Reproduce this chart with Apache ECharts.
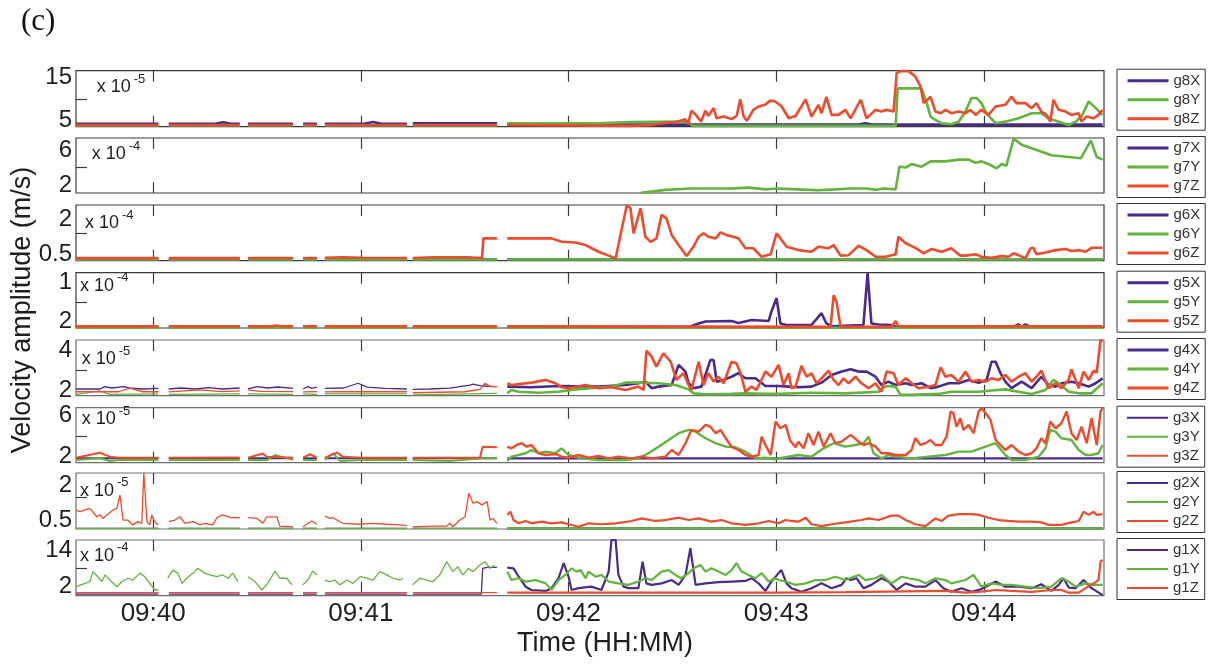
<!DOCTYPE html>
<html>
<head>
<meta charset="utf-8">
<script src="https://cdn.jsdelivr.net/npm/echarts@6/dist/echarts.min.js"></script>
<style>
  html, body { margin: 0; padding: 0; background: #fff; }
  #chart { width: 1208px; height: 664px; }
</style>
</head>
<body>
<div id="chart"></div>
<script>
// Time is counted in seconds after 09:39:00.
const timeRange = [37.7, 334.7];
const minuteTicks = [60, 120, 180, 240, 300];
const minuteLabels = ['09:40', '09:41', '09:42', '09:43', '09:44'];
// Recording gaps (no samples around these instants)
const gapTimes = [63, 86.2, 101.9, 108.5, 134.2, 160.8];
const secondFileStart = 160.8;

const stations = ['g8', 'g7', 'g6', 'g5', 'g4', 'g3', 'g2', 'g1'];
const exponents = ['-5', '-4', '-4', '-4', '-5', '-5', '-5', '-4'];
const yMin = [3.4, 1.09, 0.21, 0.067, 1.71, 1.42, 0.135, -1];
const yMax = [16.7, 7.37, 2.63, 1.2, 4.53, 6.7, 2.54, 17.5];
const yLabelValues = [[5, 15], [2, 6], [0.5, 2], [0.2, 1], [2, 4], [2, 6], [0.5, 2], [2, 14]];
const yLabelText = [['5', '15'], ['2', '6'], ['0.5', '2'], ['2', '1'], ['2', '4'], ['2', '6'], ['0.5', '2'], ['2', '14']];
const yMidTick = [10, 4, 1.4, 0.6, 3, 4, 1.5, 8];

// ---- velocity amplitudes, [time s, amplitude in units of the panel exponent] ----
const g8X = [[37.7,4.1],[61.5,4.1],[64.5,4.1],[78,4.1],[80.2,4.45],[82.5,4.1],[85,4.1],[87.4,4.1],[100.4,4.1],[103.3,4.1],[107.3,4.1],[109.6,4.1],[121,4.1],[123.5,4.5],[126,4.1],[133.3,4.1],[135,4.2],[159.3,4.2],
  [162.3,3.9],[264,3.9],[265.8,4.2],[267.5,3.9],[334.3,3.9]];
const g8Y = [[37.7,3.7],[61.5,3.7],[64.5,3.7],[85,3.7],[87.4,3.7],[100.4,3.7],[103.3,3.7],[107.3,3.7],[109.6,3.7],[133.3,3.7],[135,3.7],[159.3,3.7],
  [162.3,4.2],[188.7,4.2],[197.3,4.5],[214.7,4.6],[215.8,3.6],[274.5,3.6],[275.1,12.5],[282,12.5],[283.5,9.0],[284.6,5.8],[286,5.0],[287.8,4.2],[290.6,4.0],[292.7,4.6],[294.7,7.0],[296.4,10.2],[297.9,10.2],[299.3,9.0],[300.7,6.6],[303.4,4.2],[306.2,4.6],[310,5.4],[313.8,6.6],[316.6,6.6],[318.6,5.4],[321.6,4.6],[324.5,3.8],[326.5,4.6],[328.2,5.8],[330.3,9.4],[332.3,7.8],[334.3,6.2]];
const g8Z = [[37.7,3.8],[61.5,3.8],[64.5,3.8],[85,3.8],[87.4,3.8],[100.4,3.8],[103.3,3.8],[107.3,3.8],[109.6,3.8],[133.3,3.8],[135,3.8],[159.3,3.8],
  [162.3,3.8],[198,3.6],[204,3.8],[207,4.2],[211,4.5],[212.3,4.8],[213.7,5.2],[214.5,4.0],[215.5,7.2],[216.8,6.2],[218.3,4.6],[219.5,7.2],[220.4,6.0],[221.9,7.8],[222.8,5.4],[224.8,5.8],[227.2,5.2],[228.6,6.0],[229.6,9.9],[230.6,5.8],[231.5,4.8],[233.4,7.4],[234.9,8.2],[236.8,8.6],[238.3,9.6],[239.7,9.4],[241.6,8.2],[243.6,5.4],[245.6,6.0],[248.5,9.9],[250.2,5.8],[252.2,8.6],[253.1,6.6],[254.5,10.5],[256,6.2],[258,6.2],[260,7.4],[261.5,5.4],[264.4,9.8],[266.1,5.4],[268.7,7.4],[270.4,7.0],[271.9,7.4],[273.9,7.0],[274.8,16.1],[275.9,16.6],[278.2,16.6],[280.2,15.3],[281.7,12.9],[282.6,9.0],[284.6,10.5],[286,7.0],[287.5,6.6],[288.9,7.4],[290.6,6.6],[292.7,7.0],[294.7,6.6],[296.1,7.4],[297.6,6.2],[299.3,7.4],[301.3,6.2],[303.4,8.2],[306.2,8.6],[308,10.5],[309.4,9.0],[312,9.0],[313.8,7.8],[315.2,9.0],[316.6,7.0],[318.1,6.2],[319.2,4.6],[320.1,9.8],[321.6,7.4],[323.6,7.0],[325.3,6.2],[327.4,6.6],[328.2,4.6],[329.6,5.8],[331.7,5.4],[333.1,6.2],[334.3,7.4]];

const g7X = [];
const g7Y = [[201,1.1],[204,1.25],[208,1.45],[215.5,1.6],[227,1.6],[232,1.7],[237,1.5],[240,1.6],[246,1.5],[252,1.4],[257,1.5],[261.5,1.6],[266,1.6],[269,1.45],[271,1.6],[274.5,1.5],[275.6,4.1],[277.4,4.0],[279.1,4.4],[282,4.1],[284.6,4.7],[289,4.7],[292.7,4.9],[295.6,4.9],[297.6,4.55],[299.3,4.7],[301.3,4.4],[303.7,3.9],[305.1,4.4],[306.5,4.2],[308.6,7.3],[310.9,6.6],[313.8,6.2],[319.5,5.4],[324.5,5.2],[328,5.05],[330.9,7.1],[332.6,5.2],[334.3,4.9]];
const g7Z = [];

const g6X = [[37.7,0.26],[61.5,0.26],[64.5,0.26],[85,0.26],[87.4,0.26],[100.4,0.26],[103.3,0.26],[107.3,0.26],[109.6,0.26],[133.3,0.26],[135,0.26],[159.3,0.26],[162.3,0.26],[334.3,0.26]];
const g6Y = [[37.7,0.26],[61.5,0.26],[64.5,0.26],[85,0.26],[87.4,0.26],[100.4,0.26],[103.3,0.26],[107.3,0.26],[109.6,0.26],[133.3,0.26],[135,0.26],[159.3,0.26],[162.3,0.26],[334.3,0.26]];
const g6Z = [[37.7,0.32],[61.5,0.32],[64.5,0.32],[85,0.32],[87.4,0.33],[100.4,0.33],[103.3,0.33],[107.3,0.33],[109.6,0.34],[115,0.36],[120,0.34],[133.3,0.33],[135,0.33],[140.8,0.36],[150.6,0.36],[155,0.33],[155.4,1.18],[159.3,1.18],
  [162.3,1.18],[175.1,1.18],[178,1.03],[182,1.0],[184.9,0.89],[188.7,0.6],[193.6,0.31],[195,1.33],[196.8,2.6],[197.9,2.49],[198.8,1.4],[200.8,2.49],[202.2,1.25],[203.7,1.03],[205.4,1.18],[206.9,2.2],[208.3,2.05],[209.8,1.33],[211.8,0.89],[214.1,0.41],[216.1,0.82],[217.6,1.25],[219,1.4],[220.4,1.25],[222.5,1.18],[223.9,1.44],[225.6,1.33],[229.1,1.18],[231.1,0.75],[233.4,0.75],[235.8,0.38],[238.4,0.49],[240.1,1.4],[243,0.82],[246.4,0.67],[250.2,0.6],[252.2,0.82],[255.1,0.75],[256.6,0.89],[258.6,0.43],[260.9,0.45],[263.8,0.86],[266.1,0.67],[268.7,0.38],[271.6,0.38],[274.5,0.49],[275.3,1.25],[277.4,0.97],[280.2,0.77],[282.6,0.53],[284.9,0.72],[287.8,0.6],[290.6,0.75],[293.2,0.43],[294.7,0.43],[297.6,0.49],[299.3,0.38],[302.2,0.34],[305.1,0.41],[307.1,0.38],[308.6,0.53],[310,0.45],[312,0.31],[313.5,0.75],[314.3,0.77],[315.2,0.49],[317.8,0.57],[320.7,0.67],[323.6,0.72],[325.3,0.63],[327.4,0.67],[329.4,0.6],[331.1,0.77],[334.3,0.77]];

const g5X = [[37.7,0.09],[61.5,0.09],[64.5,0.09],[85,0.09],[87.4,0.09],[100.4,0.09],[103.3,0.09],[107.3,0.09],[109.6,0.09],[133.3,0.09],[135,0.09],[159.3,0.09],
  [162.3,0.09],[214.7,0.09],[217.6,0.16],[219.6,0.2],[227.1,0.21],[229.1,0.17],[232.9,0.23],[237.8,0.21],[238.6,0.4],[240.1,0.68],[241.2,0.16],[243,0.13],[250.2,0.13],[253.1,0.37],[254.5,0.16],[256,0.1],[265.2,0.13],[266.4,1.19],[267.5,0.16],[269.6,0.14],[273.3,0.13],[275.3,0.08],[308,0.08],[310,0.14],[310.9,0.09],[312,0.14],[313.8,0.08],[329.4,0.1],[334.3,0.08]];
const g5Y = [[37.7,0.07],[61.5,0.07],[64.5,0.07],[85,0.07],[87.4,0.07],[100.4,0.07],[103.3,0.07],[107.3,0.07],[109.6,0.07],[133.3,0.07],[135,0.07],[159.3,0.07],[162.3,0.07],[334.3,0.07]];
const g5Z = [[37.7,0.1],[61.5,0.1],[64.5,0.1],[85,0.1],[87.4,0.1],[94,0.1],[95.7,0.12],[97,0.1],[100.4,0.1],[103.3,0.1],[107.3,0.1],[109.6,0.1],[133.3,0.1],[135,0.1],[159.3,0.1],
  [162.3,0.1],[255.7,0.09],[256.6,0.74],[257.4,0.61],[258.6,0.09],[273.3,0.09],[274.5,0.21],[275.3,0.1],[334.3,0.1]];

const g4X = [[37.7,2.05],[44.6,2.05],[46,2.17],[48,2.1],[51.5,2.17],[53,2.1],[57,2.05],[61.5,2.08],[64.5,2.05],[68,2.1],[72,2.05],[76,2.12],[80,2.05],[85,2.1],[87.4,2.05],[90,2.17],[93,2.1],[96,2.15],[100.4,2.08],[103.3,2.05],[104.7,2.17],[105.8,2.08],[107.3,2.15],[109.6,2.08],[115,2.1],[119.2,2.34],[121.8,2.14],[127,2.08],[133.3,2.05],[135,2.03],[140,2.05],[145.7,2.09],[151.5,2.25],[152.4,2.3],[155,2.2],[159.3,2.17],
  [162.3,2.17],[169.3,2.14],[177.1,2.2],[188.7,2.17],[196.5,2.25],[200.2,2.34],[202.2,2.42],[204,2.09],[206,2.17],[209.8,2.25],[211.8,3.27],[213.8,2.93],[214.7,2.34],[216.1,2.09],[218.4,2.17],[221,3.52],[221.9,3.52],[222.8,2.42],[224.8,2.51],[227.1,2.67],[229.1,2.85],[231.1,2.59],[234,2.59],[236.9,2.2],[240.7,2.2],[243.6,2.17],[246.4,2.14],[250.2,2.17],[253.1,2.37],[256,2.76],[258.9,2.93],[261.5,3.05],[263.8,2.93],[266.1,2.93],[268.7,2.67],[270.4,2.25],[272.4,2.42],[274.5,2.25],[277.4,2.34],[279.1,2.25],[282,2.34],[284.6,2.09],[286.9,2.17],[289.8,2.34],[292.7,2.34],[295.6,2.51],[298.5,2.37],[300.8,2.51],[302.2,3.43],[303.4,3.43],[304.8,2.85],[306.2,2.42],[308,2.09],[310.9,2.42],[313.8,2.09],[316.6,2.67],[318.7,2.25],[320.7,2.17],[322.4,2.34],[325.3,2.42],[327.4,2.34],[330.3,2.17],[332.3,2.34],[334.3,2.59]];
const g4Y = [[37.7,1.78],[44.6,1.95],[47.5,1.78],[61.5,1.8],[64.5,1.78],[85,1.8],[87.4,1.8],[100.4,1.78],[103.3,1.8],[107.3,1.78],[109.6,1.8],[133.3,1.8],[135,1.75],[159.3,1.83],
  [162.3,1.83],[163.5,2.0],[165.6,1.91],[171.3,1.86],[177.1,1.91],[182,2.03],[186.6,2.09],[192.4,2.17],[196.5,2.37],[200.2,2.37],[206,2.34],[210.9,2.25],[214.7,2.03],[216.1,1.83],[219.6,1.78],[227.1,1.8],[231.1,1.83],[236.9,1.8],[240.7,1.8],[250.2,1.86],[260,1.83],[269.6,1.91],[271,2.14],[272.4,2.2],[274.5,2.17],[275.9,1.75],[279.1,1.75],[286.9,1.8],[290.6,1.91],[298.5,1.91],[302.2,1.97],[306.2,2.03],[310,1.91],[313.8,1.8],[317.8,2.0],[320.1,2.51],[321.6,2.34],[324.5,1.91],[327.4,1.83],[331.1,1.83],[334.3,2.34]];
const g4Z = [[37.7,1.91],[50,1.91],[53.3,2.09],[57,1.91],[61.5,1.91],[64.5,1.9],[73.5,2.0],[80,1.92],[85,1.95],[87.4,2.0],[91,1.93],[100.4,1.92],[103.3,1.9],[107.3,1.92],[109.6,1.9],[115,1.91],[133.3,1.91],[135,1.86],[150,1.91],[154.4,2.03],[155.9,2.34],[157.3,2.17],[159.3,2.17],
  [162.3,2.34],[163.5,2.25],[169.3,2.37],[173.4,2.51],[176.2,2.34],[178,2.14],[180,2.09],[184.9,2.25],[188.7,2.09],[192.4,2.14],[196.5,2.0],[200.2,2.17],[201.7,2.0],[202.5,3.99],[204,3.69],[205.4,3.18],[207.4,3.86],[209.5,3.43],[211.2,2.51],[213.2,2.85],[214.7,2.25],[215.5,2.0],[217.6,3.43],[219,2.25],[220.4,2.85],[221.9,2.42],[223.3,2.67],[224.8,2.34],[227.1,3.43],[228.5,3.35],[229.7,2.85],[231.1,1.91],[232.9,2.17],[234.3,2.0],[236.9,2.93],[238.6,2.67],[240.7,3.27],[242.1,2.25],[243.6,2.85],[244.4,2.09],[245.6,2.17],[247.3,3.22],[248.8,2.67],[250.2,2.85],[251.6,2.34],[253.1,2.59],[255.1,2.98],[256.6,2.51],[258,2.25],[259.4,2.59],[260.9,2.34],[262.9,2.67],[264.6,2.34],[266.7,2.09],[268.7,2.34],[270.4,1.91],[271.9,2.93],[273.9,2.85],[275.3,2.25],[277.4,2.59],[279.1,2.34],[281.1,2.09],[283.4,2.14],[286,2.25],[287.5,3.15],[288.9,2.67],[290.6,2.76],[292.7,2.42],[294.7,2.93],[296.4,2.42],[298.5,2.51],[300.5,2.42],[302.2,2.59],[304.2,2.51],[306.2,2.76],[308,2.42],[310,2.67],[312,2.85],[313.8,2.42],[315.2,2.67],[316.6,2.98],[318.7,2.09],[320.7,2.34],[322.4,2.09],[324.5,2.51],[325.3,3.05],[327.4,2.09],[328.8,2.93],[330.3,2.51],[331.7,2.98],[332.6,2.88],[333.7,4.53],[334.3,4.45]];

const g3X = [[37.7,1.84],[61.5,1.84],[64.5,1.84],[85,1.84],[87.4,1.84],[100.4,1.84],[103.3,1.84],[107.3,1.84],[109.6,1.84],[133.3,1.84],[135,1.84],[159.3,1.84],[162.3,1.84],[334.3,1.84]];
const g3Y = [[37.7,1.68],[44.6,1.84],[47.5,1.59],[50,1.68],[61.5,1.68],[64.5,1.68],[85,1.68],[87.4,1.68],[93,1.68],[95.2,2.16],[97,2.0],[100.4,1.7],[103.3,1.68],[107.3,1.68],[109.6,1.7],[112,2.33],[114,1.59],[120,1.68],[133.3,1.68],[135,1.68],[145.7,1.59],[155,1.84],[159.3,1.84],
  [162.3,1.59],[163.5,2.0],[165.6,2.16],[167.6,2.33],[169.3,2.64],[171.3,2.33],[173.4,2.48],[176.2,2.33],[178,2.8],[180,2.16],[182.9,1.9],[188.7,1.68],[196.5,1.68],[200.2,1.84],[203.1,2.33],[206,2.96],[208.9,3.6],[211.8,4.25],[214.7,4.57],[216.7,4.4],[219.6,3.77],[222.5,3.29],[225.4,2.96],[228.2,2.9],[231.1,2.48],[234,1.84],[236.9,1.9],[239.8,1.75],[240.7,1.84],[246.4,2.16],[250.2,2.0],[252.2,2.48],[253.7,2.8],[256.6,3.29],[260,2.96],[262.9,3.12],[265.2,3.29],[266.7,3.92],[268.1,2.33],[270.4,1.84],[272.4,2.16],[274.5,2.0],[279.1,1.84],[284,2.0],[288.9,2.16],[292.7,2.48],[296.4,2.48],[300.5,2.96],[303.4,3.29],[306.2,2.16],[308,1.68],[312,1.68],[315.8,2.0],[317.8,2.8],[319.2,4.57],[320.7,4.4],[322.4,3.77],[325.3,3.6],[327.4,2.64],[329.4,2.16],[331.1,2.16],[333.1,2.33],[334.3,3.12]];
const g3Z = [[37.7,1.9],[44.6,2.38],[47.5,2.0],[50,1.9],[61.5,1.9],[64.5,1.9],[85,1.92],[87.4,1.9],[91.7,2.3],[92.8,2.0],[100.4,1.9],[103.3,1.9],[105.3,2.23],[107.3,1.9],[109.6,1.9],[113.1,2.38],[114.8,2.0],[120,1.9],[133.3,1.9],[135,1.9],[154.4,1.9],[155.2,2.96],[159.3,2.9],
  [162.3,2.96],[163.5,2.8],[165,3.12],[166.4,3.29],[167.9,2.96],[169.3,3.12],[171.3,2.33],[173.4,2.16],[176.2,2.26],[178,2.0],[180,1.9],[182.9,2.16],[185.8,1.9],[188.7,2.07],[191.6,1.84],[194.4,2.0],[198.2,1.84],[201.1,2.0],[204,1.84],[208,2.0],[209.8,2.64],[211.8,2.16],[213.8,3.29],[215.5,4.57],[217.6,4.4],[219.6,5.05],[221,4.88],[222.5,4.25],[223.9,4.57],[225.4,3.77],[227.1,2.96],[229.1,2.64],[231.1,2.16],[232.9,2.0],[234.9,2.16],[235.8,3.92],[236.9,3.12],[238.4,2.16],[239.8,5.37],[241.2,4.73],[242.7,5.05],[244.1,3.5],[245.6,2.9],[246.4,3.44],[247.9,2.8],[249.3,4.25],[250.8,3.12],[252.2,4.4],[253.7,2.96],[255.7,4.25],[257.1,3.29],[258.9,3.44],[261.5,4.09],[263.8,3.44],[265.2,3.12],[266.7,3.29],[268.7,2.96],[270.4,2.33],[272.4,2.33],[274.5,2.16],[277.4,2.16],[279.1,2.64],[280.2,3.77],[281.7,3.12],[283.1,3.29],[284.6,3.6],[286,3.12],[287.8,3.12],[289.2,3.92],[290.4,6.33],[291.2,6.17],[292.1,4.88],[293.2,5.69],[294.1,4.57],[295.6,5.05],[297,4.25],[298.5,6.33],[299.3,6.65],[300.5,6.17],[301.9,5.53],[303.4,3.6],[304.8,3.12],[306.2,2.64],[308,3.12],[310,2.48],[312,2.16],[313.8,2.33],[315.2,2.8],[316.6,3.77],[317.8,3.29],[319.2,5.37],[320.7,4.73],[322.4,5.21],[323.9,6.33],[325.3,4.25],[326.8,3.6],[328.2,4.88],[329.7,3.29],[331.1,5.69],[332.6,3.12],[333.7,6.33],[334.3,6.65]];

const g2X = [[37.7,0.16],[61.5,0.16],[64.5,0.16],[85,0.16],[87.4,0.16],[100.4,0.16],[103.3,0.16],[107.3,0.16],[109.6,0.16],[133.3,0.16],[135,0.16],[159.3,0.16],[162.3,0.16],[334.3,0.16]];
const g2Y = [[37.7,0.16],[61.5,0.16],[64.5,0.16],[85,0.16],[87.4,0.16],[100.4,0.16],[103.3,0.16],[107.3,0.16],[109.6,0.16],[133.3,0.16],[135,0.16],[159.3,0.16],[162.3,0.16],[334.3,0.16]];
const g2Z = [[37.7,0.95],[38.8,0.88],[41.7,1.02],[43.7,0.66],[44.6,0.74],[45.5,0.59],[46.6,0.74],[48.4,0.95],[49.5,1.02],[50.4,1.59],[51.3,0.52],[52.7,0.52],[54.1,0.31],[55.6,0.45],[56.7,0.38],[57.3,2.53],[58.2,0.45],[59,0.31],[59.6,0.74],[60.2,0.52],[61.1,0.34],[61.5,0.34],
  [64.5,0.45],[66.3,0.52],[67.7,0.66],[69.2,0.38],[71.5,0.45],[73.5,0.31],[74.9,0.38],[77.2,0.31],[78.4,0.62],[80.1,0.74],[82.2,0.62],[85,0.62],
  [87.4,0.62],[90,0.59],[91.7,0.38],[92.8,0.66],[95.7,0.66],[96.6,0.26],[100.4,0.23],
  [103.3,0.23],[105.8,0.48],[107.3,0.34],
  [109.6,0.69],[111.1,0.59],[111.9,0.62],[114.8,0.38],[119.8,0.34],[123.5,0.38],[127.5,0.34],[131.3,0.31],[133.3,0.28],
  [135,0.23],[140.8,0.26],[144.8,0.26],[145.7,0.38],[146.6,0.23],[148.6,0.52],[150.1,0.66],[151.2,1.67],[152.4,1.24],[153.5,1.31],[155,1.17],[156.5,1.31],[157.3,0.52],[158.2,0.59],[159.3,0.38],
  [162.3,0.74],[163.2,0.88],[164.1,0.52],[165.6,0.38],[167.6,0.48],[169.3,0.38],[172.2,0.45],[175.1,0.38],[178,0.42],[180,0.34],[182.9,0.23],[185.8,0.38],[189.5,0.34],[193.6,0.38],[198.2,0.48],[201.1,0.59],[205.1,0.48],[208,0.52],[211.8,0.62],[214.7,0.52],[217.6,0.59],[221.3,0.45],[224.2,0.52],[227.1,0.38],[231.1,0.31],[234.9,0.38],[237.8,0.48],[240.7,0.38],[242.7,0.52],[244.4,0.48],[246.4,0.45],[248.5,0.62],[250.2,0.34],[253.1,0.26],[256,0.34],[260,0.42],[264.6,0.52],[266.7,0.59],[269.6,0.52],[273.3,0.71],[275.3,0.71],[277.4,0.52],[280.2,0.34],[283.1,0.26],[286,0.59],[287.8,0.48],[289.8,0.71],[292.7,0.77],[296.4,0.77],[298.5,0.74],[301.3,0.62],[304.2,0.52],[307.1,0.48],[310,0.45],[313.8,0.45],[316.6,0.42],[318.7,0.31],[322.4,0.31],[325.3,0.42],[327.4,0.48],[328.8,0.88],[330.3,0.74],[331.7,0.88],[332.6,0.74],[334.3,0.77]];

const g1X = [[37.7,-0.5],[61.5,-0.5],[64.5,-0.5],[85,-0.5],[87.4,-0.5],[100.4,-0.5],[103.3,-0.5],[107.3,-0.5],[109.6,-0.5],[133.3,-0.5],[135,-0.5],[154.8,-0.5],[155.2,8.1],[156.5,8.4],[159.3,8.4],
  [162.3,8.3],[164.1,8.1],[165.6,5.3],[167.6,2.0],[169.3,0.9],[173.4,0.6],[175.1,1.5],[177.1,4.8],[178.6,9.8],[180,5.3],[180.9,0.9],[182.9,1.5],[186.6,2.0],[189.5,0.9],[191.6,7.0],[192.4,17.5],[193.6,17.5],[194.4,5.9],[195.9,2.0],[197.3,1.5],[200.2,1.5],[201.4,10.3],[202.5,3.1],[204,2.6],[206.9,3.1],[209.8,4.2],[211.8,2.6],[213.8,5.9],[215.2,14.8],[216.7,2.6],[219.6,3.1],[223.3,3.5],[227.1,3.7],[231.1,3.9],[232.9,4.8],[234.9,3.1],[236.9,0.6],[238.6,3.7],[240.7,6.5],[241.5,7.5],[243,3.0],[244.4,1.5],[247.3,0.3],[250.2,1.5],[253.1,3.1],[256,1.5],[258.9,2.6],[260.3,4.8],[261.5,4.2],[263.2,4.8],[265.2,1.5],[267.5,2.6],[270.4,4.8],[272.4,3.7],[274.8,0.9],[277.4,3.1],[280.2,2.0],[283.1,2.0],[286,4.2],[288.3,1.5],[290.6,0.3],[293.5,1.5],[296.4,0.3],[299.3,1.2],[303.4,3.7],[306.2,2.0],[310,2.0],[313.8,1.5],[316.6,2.8],[319.5,0.6],[321.6,2.6],[323,4.8],[324.5,1.7],[326.5,1.5],[328.8,4.2],[331.1,1.5],[334.3,-0.8]];
const g1Y = [[37.7,2.0],[41.7,3.7],[42.6,7.0],[44,5.3],[45.2,3.7],[46.1,5.9],[47.5,4.2],[49.5,2.0],[51,3.7],[52.7,4.8],[54.1,4.2],[56.2,6.5],[57.6,5.3],[59,3.1],[60.5,0.9],[61.5,0.9],
  [64.2,4.8],[65.7,7.5],[67.1,6.5],[68.3,3.1],[69.7,4.8],[71.5,6.5],[72.9,8.1],[74.9,6.5],[76.4,5.9],[78.4,5.3],[80.1,5.9],[81.6,4.8],[83,6.5],[84.5,3.7],
  [87.4,5.3],[89.4,3.7],[91.4,0.9],[93.1,3.1],[95.2,7.2],[96.6,4.8],[98.6,4.8],[100.1,2.6],
  [103.2,2.6],[104.7,4.2],[106.1,7.2],[107.3,5.9],
  [109.6,4.2],[111.1,3.7],[112.5,4.2],[113.9,2.6],[116,4.2],[117.7,3.1],[119.8,5.3],[121.8,4.8],[123.5,4.2],[125.5,7.0],[127.5,5.9],[129.3,4.8],[131.3,4.2],[132.1,4.8],
  [135,2.6],[137,4.8],[139,4.2],[140.8,3.7],[142.8,5.9],[144.8,10.3],[146.6,7.0],[148,8.6],[149.5,5.9],[151,8.1],[152.4,7.0],[154.4,9.2],[155.9,10.3],[157.3,8.1],[158.7,9.2],
  [162.3,7.0],[163.5,4.2],[165.6,4.8],[167.6,3.7],[170.5,4.2],[173.4,3.1],[175.1,0.9],[177.1,4.2],[179.1,5.9],[180.9,8.1],[182.3,7.0],[183.5,7.5],[184.9,4.8],[185.8,7.0],[187.8,5.3],[189.5,5.9],[191.6,3.7],[194.4,3.1],[197.3,2.6],[200.2,3.7],[202.2,4.8],[204,4.2],[206.9,7.0],[208.9,7.5],[210.9,5.9],[212.6,4.8],[214.7,6.5],[216.1,8.1],[218.1,9.2],[219.6,7.0],[221.3,8.1],[223.3,7.0],[225.4,5.9],[227.1,7.5],[228.5,9.8],[230,7.0],[232,5.9],[234,4.8],[235.8,6.5],[237.8,3.7],[239.8,4.8],[240.7,4.2],[242.7,3.7],[245.6,2.6],[248.5,3.1],[251.4,4.2],[254.2,4.2],[257.1,5.3],[260,4.2],[263.8,5.9],[265.8,4.2],[268.7,4.8],[270.4,5.9],[273.3,3.1],[276.2,5.3],[278.2,4.8],[281.1,4.2],[283.1,3.1],[286,4.8],[288.9,4.2],[290.6,3.1],[294.7,4.2],[297,5.9],[299.3,2.0],[302.2,3.1],[305.1,2.6],[308,2.6],[312,2.0],[315.8,1.5],[319.5,2.0],[322.4,4.8],[324.5,3.7],[326.5,2.0],[329.4,3.1],[331.7,2.6],[334.3,2.6]];
const g1Z = [[37.7,0.0],[61.5,0.0],[64.5,0.0],[85,0.0],[87.4,0.0],[100.4,0.0],[103.3,0.0],[107.3,0.0],[109.6,0.0],[133.3,0.0],[135,0.0],[159.3,0.0],
  [162.3,0.0],[240,0.0],[260,0.2],[288.9,0.6],[294.7,0.0],[298.5,0.3],[303.4,0.9],[308,0.6],[313.8,0.3],[319.5,0.9],[322.4,0.9],[324.5,0.0],[327.4,0.0],[329.4,1.5],[331.7,3.1],[333.1,4.2],[333.7,10.3],[334.3,10.9]];

// lookup of the arrays above by legend name
const seriesPoints = { g8X, g8Y, g8Z, g7X, g7Y, g7Z, g6X, g6Y, g6Z, g5X, g5Y, g5Z,
                       g4X, g4Y, g4Z, g3X, g3Y, g3Z, g2X, g2Y, g2Z, g1X, g1Y, g1Z };

// ---- layout and style ----
const FONT = '"Liberation Sans", Arial, Helvetica, sans-serif';
const plotLeft = 76, plotWidth = 1028;
const gridTop = [70.7, 138, 205, 272.7, 340, 407.7, 473, 540];
const gridHeight = [56, 55, 55.7, 55.3, 55.7, 55, 56, 55.7];
const frameColor = ['#3a3a3a', '#3a3a3a', '#3a3a3a', '#3a3a3a', '#6e6e6e', '#6e6e6e', '#6e6e6e', '#6e6e6e'];
const widthFirstFile = [2.6, 2.6, 2.6, 2.6, 1.3, 2.0, 1.3, 1.3];
const widthSecondFile = [2.6, 2.6, 2.6, 2.6, 2.6, 2.4, 2.2, 2.2];
const legendLineWidth = [3, 3, 3, 3, 3, 2, 2, 2];
const compColor = { X: '#4a2a8c', Y: '#62b43c', Z: '#ee4a2c' };
// position of the "x 10^n" scale note in each panel: [left, baseline]
const scaleNotePos = [[96.7, 93.3], [91.7, 160], [85, 229], [80, 291.7], [81.7, 365], [81.7, 425], [80, 496.7], [80, 561.7]];

function withGaps(points) {
  const pts = points.slice().sort((a, b) => a[0] - b[0]);
  const out = [];
  for (let k = 0; k < pts.length; k++) {
    out.push(pts[k]);
    if (k + 1 < pts.length) {
      gapTimes.forEach(g => {
        if (pts[k][0] < g && g < pts[k + 1][0]) out.push([g, null]);
      });
    }
  }
  return out;
}

const grids = [], xAxes = [], yAxes = [], series = [], legends = [], graphics = [];

stations.forEach((st, i) => {
  grids.push({
    left: plotLeft, top: gridTop[i], width: plotWidth, height: gridHeight[i],
    show: true, borderColor: frameColor[i], borderWidth: 1.2, backgroundColor: 'transparent'
  });
  const xCommon = {
    type: 'value', gridIndex: i, min: timeRange[0], max: timeRange[1],
    axisLine: { show: false }, splitLine: { show: false },
    axisTick: { show: true, inside: true, length: 11, customValues: minuteTicks,
                lineStyle: { color: '#3c3c3c', width: 1.2 } }
  };
  xAxes.push(Object.assign({}, xCommon, {
    position: 'bottom',
    axisLabel: i === stations.length - 1 ? {
      show: true, customValues: minuteTicks, margin: 5,
      fontSize: 26, fontFamily: FONT, color: '#1e1e1e',
      formatter: v => minuteLabels[minuteTicks.indexOf(v)]
    } : { show: false }
  }));
  xAxes.push(Object.assign({}, xCommon, { position: 'top', axisLabel: { show: false } }));

  const labVals = yLabelValues[i], labText = yLabelText[i];
  yAxes.push({
    type: 'value', gridIndex: i, min: yMin[i], max: yMax[i],
    axisLine: { show: false }, splitLine: { show: false },
    axisTick: { show: true, inside: true, length: 11, customValues: [yMidTick[i]],
                lineStyle: { color: '#3c3c3c', width: 1.2 } },
    axisLabel: {
      show: true, customValues: labVals, margin: 4,
      fontSize: 24, fontFamily: FONT, color: '#1e1e1e',
      formatter: v => {
        let best = 0;
        labVals.forEach((lv, k) => { if (Math.abs(lv - v) < Math.abs(labVals[best] - v)) best = k; });
        return labText[best];
      }
    }
  });

  ['X', 'Y', 'Z'].forEach(c => {
    const name = st + c;
    const pts = seriesPoints[name];
    const first = pts.filter(p => p[0] < secondFileStart);
    const second = pts.filter(p => p[0] > secondFileStart);
    const base = {
      name: name, type: 'line', xAxisIndex: 2 * i, yAxisIndex: i,
      symbol: 'none', showSymbol: false, connectNulls: false, clip: true,
      silent: true, animation: false, itemStyle: { color: compColor[c] }
    };
    series.push(Object.assign({}, base, { data: withGaps(first),
      lineStyle: { color: compColor[c], width: widthFirstFile[i] } }));
    series.push(Object.assign({}, base, { data: withGaps(second),
      lineStyle: { color: compColor[c], width: widthSecondFile[i] } }));
  });

  legends.push({
    show: true, orient: 'vertical', left: 1117, top: gridTop[i] - 1.5,
    data: [st + 'X', st + 'Y', st + 'Z'], selectedMode: false,
    borderColor: '#333', borderWidth: 1, borderRadius: 0, backgroundColor: '#fff',
    padding: [4, 5, 4, 9], itemWidth: 41, itemHeight: 14, itemGap: 4,
    itemStyle: { opacity: 0 }, lineStyle: { width: legendLineWidth[i] },
    textStyle: { fontSize: 15, fontFamily: FONT, color: '#333' }
  });

  const [nx, nb] = scaleNotePos[i];
  graphics.push({
    type: 'text', x: nx, y: nb - 6, silent: true,
    style: { text: 'x 10', font: '18px ' + FONT, fill: '#1e1e1e', textAlign: 'left', textVerticalAlign: 'middle' }
  });
  graphics.push({
    type: 'text', x: nx + 37, y: nb - 14, silent: true,
    style: { text: exponents[i], font: '13px ' + FONT, fill: '#1e1e1e', textAlign: 'left', textVerticalAlign: 'middle' }
  });
});

graphics.push({
  type: 'text', x: 21, y: 22, silent: true,
  style: { text: '(c)', font: '31px "Liberation Serif", "Times New Roman", serif', fill: '#111', textAlign: 'left', textVerticalAlign: 'middle' }
});
graphics.push({
  type: 'text', x: 23, y: 310, rotation: Math.PI / 2, silent: true,
  style: { text: 'Velocity amplitude (m/s)', font: '27px ' + FONT, fill: '#1e1e1e', textAlign: 'center', textVerticalAlign: 'middle' }
});
graphics.push({
  type: 'text', x: 605, y: 644, silent: true,
  style: { text: 'Time (HH:MM)', font: '27px ' + FONT, fill: '#1e1e1e', textAlign: 'center', textVerticalAlign: 'middle' }
});

const chart = echarts.init(document.getElementById('chart'), null, { renderer: 'canvas' });
chart.setOption({
  animation: false,
  backgroundColor: '#fff',
  grid: grids, xAxis: xAxes, yAxis: yAxes,
  legend: legends, series: series, graphic: graphics
});
</script>
</body>
</html>
